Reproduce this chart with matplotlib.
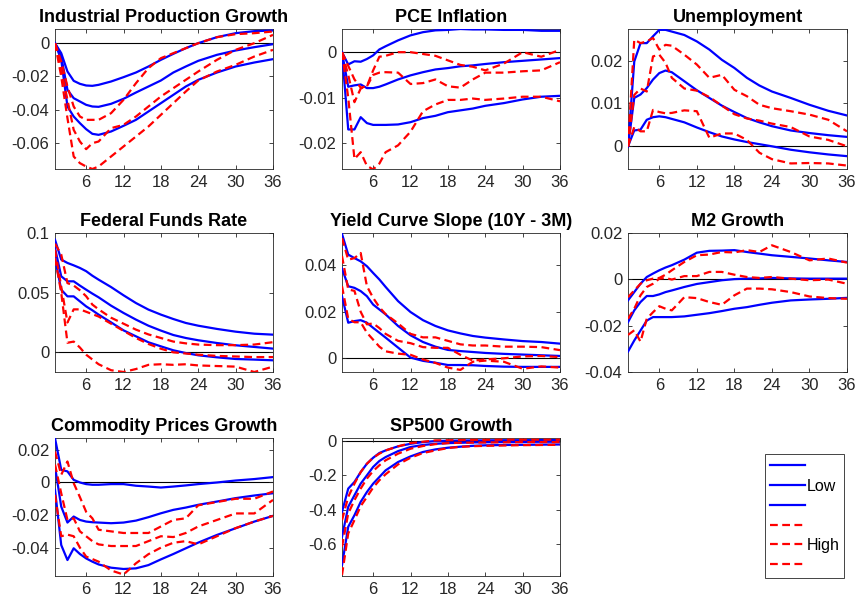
import matplotlib
matplotlib.use("Agg")
import matplotlib.pyplot as plt
from matplotlib.lines import Line2D

plt.rcParams['font.family'] = ['Liberation Sans', 'DejaVu Sans']

# horizons (months) at which the responses are listed
h = [1, 2, 3, 4, 5, 6, 7, 8, 10, 12, 14, 16, 18, 20, 22, 24, 27, 30, 33, 36]

# Industrial production growth
ip_low_lo = [0, -0.010, -0.038, -0.044, -0.048, -0.0516, -0.0544, -0.055, -0.053, -0.0496, -0.046, -0.041, -0.036, -0.031, -0.026, -0.022, -0.0176, -0.014, -0.0116, -0.0096]
ip_low_md = [0, -0.008, -0.028, -0.033, -0.035, -0.037, -0.038, -0.0382, -0.0364, -0.0334, -0.0296, -0.026, -0.0224, -0.0176, -0.014, -0.0106, -0.007, -0.0044, -0.0024, -0.0006]
ip_low_hi = [0, -0.006, -0.017, -0.0226, -0.0244, -0.0254, -0.0256, -0.025, -0.023, -0.0204, -0.0176, -0.014, -0.010, -0.0064, -0.003, 0, 0.0036, 0.006, 0.0072, 0.0076]
ip_high_lo = [0, -0.020, -0.045, -0.068, -0.072, -0.074, -0.0755, -0.074, -0.068, -0.062, -0.056, -0.050, -0.043, -0.036, -0.029, -0.0224, -0.017, -0.013, -0.008, -0.004]
ip_high_md = [0, -0.016, -0.034, -0.052, -0.059, -0.0636, -0.060, -0.059, -0.051, -0.049, -0.044, -0.038, -0.032, -0.027, -0.022, -0.017, -0.010, -0.004, 0, 0.005]
ip_high_hi = [0, -0.011, -0.026, -0.038, -0.044, -0.046, -0.046, -0.046, -0.042, -0.034, -0.024, -0.015, -0.009, -0.006, -0.003, 0, 0.0036, 0.0054, 0.006, 0.007]

# PCE inflation
pce_low_lo = [0, -0.017, -0.017, -0.0143, -0.0156, -0.016, -0.016, -0.016, -0.0159, -0.0154, -0.0145, -0.014, -0.0132, -0.0128, -0.0124, -0.0118, -0.0112, -0.0104, -0.0098, -0.0096]
pce_low_md = [0, -0.0076, -0.0073, -0.0071, -0.0079, -0.0079, -0.0076, -0.0071, -0.006, -0.0051, -0.0044, -0.0038, -0.0035, -0.0031, -0.0029, -0.0026, -0.0022, -0.0019, -0.0016, -0.0013]
pce_low_hi = [0, -0.0027, -0.002, -0.0021, -0.0015, -0.0007, 0.0006, 0.0013, 0.0026, 0.0037, 0.0044, 0.0048, 0.0049, 0.0051, 0.005, 0.005, 0.0049, 0.0049, 0.0047, 0.0047]
pce_high_lo = [0, -0.010, -0.0235, -0.022, -0.025, -0.0258, -0.0245, -0.022, -0.0205, -0.0175, -0.013, -0.0115, -0.0105, -0.0105, -0.0102, -0.0105, -0.0102, -0.0098, -0.0098, -0.0108]
pce_high_md = [0, -0.005, -0.011, -0.008, -0.0075, -0.005, -0.0045, -0.0044, -0.0045, -0.007, -0.0068, -0.006, -0.0075, -0.0078, -0.006, -0.0045, -0.0045, -0.0042, -0.004, -0.0022]
pce_high_hi = [0, -0.003, -0.006, -0.0078, -0.0075, -0.004, -0.001, -0.0008, 0, 0, -0.0004, -0.0008, -0.0018, -0.0028, -0.0032, -0.004, -0.0025, 0, -0.001, 0.0005]

# Unemployment
ur_low_lo = [0, 0.0037, 0.0039, 0.0062, 0.0068, 0.007, 0.0068, 0.0064, 0.0056, 0.0044, 0.0033, 0.0023, 0.0016, 0.001, 0.0005, 0, -0.0008, -0.0014, -0.0019, -0.0023]
ur_low_md = [0, 0.0113, 0.0121, 0.0136, 0.0156, 0.0171, 0.0177, 0.0173, 0.0152, 0.0131, 0.0113, 0.0095, 0.008, 0.0066, 0.0056, 0.0047, 0.0037, 0.0031, 0.0026, 0.0022]
ur_low_hi = [0, 0.0198, 0.0241, 0.0241, 0.0257, 0.0272, 0.0272, 0.0268, 0.026, 0.0245, 0.0226, 0.0202, 0.0183, 0.016, 0.0142, 0.0128, 0.0113, 0.0097, 0.0083, 0.0072]
ur_high_lo = [0, 0.0045, 0.0035, 0.0035, 0.0085, 0.008, 0.0077, 0.0078, 0.0084, 0.0082, 0.002, 0.003, 0.003, 0.0015, -0.0015, -0.003, -0.004, -0.0039, -0.004, -0.0045]
ur_high_md = [0, 0.012, 0.0135, 0.0128, 0.021, 0.0214, 0.0195, 0.016, 0.0135, 0.013, 0.0115, 0.0095, 0.0075, 0.0065, 0.006, 0.0053, 0.0045, 0.0023, 0.0015, 0]
ur_high_hi = [0, 0.0249, 0.0241, 0.0245, 0.0253, 0.0226, 0.0237, 0.0235, 0.0214, 0.0191, 0.016, 0.0167, 0.0132, 0.0117, 0.0097, 0.0089, 0.0082, 0.0074, 0.0062, 0.0035]

# Federal funds rate
ffr_low_lo = [0.079, 0.0525, 0.0469, 0.0469, 0.0427, 0.0385, 0.0352, 0.0316, 0.0251, 0.0184, 0.0134, 0.0084, 0.005, 0.0017, -0.0006, -0.0025, -0.0042, -0.0056, -0.0061, -0.0067]
ffr_low_md = [0.0874, 0.0637, 0.0595, 0.0595, 0.0559, 0.0525, 0.0492, 0.0461, 0.0391, 0.033, 0.0274, 0.0223, 0.0182, 0.0145, 0.012, 0.0101, 0.0078, 0.0059, 0.0045, 0.0031]
ffr_low_hi = [0.0944, 0.0777, 0.0749, 0.0729, 0.0707, 0.068, 0.0642, 0.0609, 0.0547, 0.0478, 0.0413, 0.0358, 0.0316, 0.0279, 0.0246, 0.0223, 0.0196, 0.0173, 0.0156, 0.0148]
ffr_high_lo = [0.079, 0.050, 0.008, 0.009, 0.004, -0.002, -0.006, -0.010, -0.015, -0.0165, -0.014, -0.0105, -0.010, -0.0105, -0.010, -0.011, -0.0115, -0.012, -0.0165, -0.012]
ffr_high_md = [0.086, 0.055, 0.025, 0.036, 0.036, 0.034, 0.032, 0.030, 0.024, 0.018, 0.012, 0.007, 0.003, 0, -0.001, -0.002, -0.003, -0.0035, -0.004, -0.004]
ffr_high_hi = [0.091, 0.082, 0.058, 0.056, 0.052, 0.047, 0.040, 0.036, 0.029, 0.024, 0.019, 0.015, 0.012, 0.009, 0.0075, 0.0065, 0.006, 0.006, 0.0065, 0.0085]

# Yield curve slope
yc_low_lo = [0.0267, 0.0153, 0.016, 0.0164, 0.0153, 0.0131, 0.011, 0.0089, 0.0046, 0.0003, -0.0011, -0.0019, -0.0029, -0.0029, -0.003, -0.0033, -0.0036, -0.0037, -0.0037, -0.0037]
yc_low_md = [0.0386, 0.031, 0.0303, 0.0289, 0.0267, 0.0231, 0.021, 0.0189, 0.0139, 0.0099, 0.007, 0.005, 0.0036, 0.0031, 0.0027, 0.0023, 0.0019, 0.0016, 0.0013, 0.001]
yc_low_hi = [0.0535, 0.0446, 0.0431, 0.0417, 0.0396, 0.0367, 0.0339, 0.0307, 0.0246, 0.0199, 0.0164, 0.0139, 0.012, 0.0107, 0.0096, 0.0089, 0.0081, 0.0074, 0.007, 0.0063]
yc_high_lo = [0.031, 0.017, 0.0155, 0.0155, 0.011, 0.008, 0.005, 0.003, 0.002, 0.0015, -0.0005, -0.002, -0.004, -0.005, -0.0015, -0.001, -0.0015, -0.0045, -0.0035, -0.004]
yc_high_md = [0.044, 0.0296, 0.029, 0.020, 0.0146, 0.015, 0.013, 0.0105, 0.0075, 0.0065, 0.0048, 0.0045, 0.0045, 0.0015, -0.001, -0.0005, 0, 0.0008, 0.001, 0.0005]
yc_high_hi = [0.0517, 0.0424, 0.0431, 0.0453, 0.031, 0.026, 0.022, 0.019, 0.015, 0.0105, 0.009, 0.009, 0.0075, 0.006, 0.0055, 0.0055, 0.005, 0.005, 0.0048, 0.0035]

# M2 growth
m2_low_lo = [-0.0312, -0.0264, -0.0221, -0.0178, -0.0163, -0.0163, -0.0163, -0.0163, -0.016, -0.0153, -0.0146, -0.0137, -0.0127, -0.012, -0.011, -0.0101, -0.0091, -0.0087, -0.0084, -0.008]
m2_low_md = [-0.0185, -0.0134, -0.0098, -0.0072, -0.0072, -0.0065, -0.0055, -0.0048, -0.0033, -0.002, -0.0012, -0.0004, 0.0001, 0.0003, 0.0004, 0.0006, 0.0004, 0.0003, 0.0003, 0.0003]
m2_low_hi = [-0.0091, -0.0055, -0.0019, 0.001, 0.0025, 0.0039, 0.0051, 0.0061, 0.0085, 0.0115, 0.0123, 0.0124, 0.0126, 0.0118, 0.0111, 0.0104, 0.0097, 0.009, 0.0082, 0.0075]
m2_high_lo = [-0.024, -0.022, -0.0269, -0.017, -0.0142, -0.0116, -0.0127, -0.0134, -0.0077, -0.0081, -0.0098, -0.011, -0.0069, -0.004, -0.004, -0.0043, -0.0055, -0.0074, -0.0081, -0.0084]
m2_high_md = [-0.017, -0.0127, -0.0069, -0.0033, -0.0019, 0.0003, 0.0006, -0.0001, 0.0014, 0.0014, 0.0032, 0.0032, 0.002, 0.001, 0.0006, 0.001, 0.0003, -0.0004, -0.0001, -0.0019]
m2_high_hi = [-0.0077, -0.0048, -0.0019, -0.0004, 0.0003, 0.0006, 0.002, 0.0039, 0.0075, 0.0104, 0.0107, 0.0118, 0.0116, 0.0126, 0.0118, 0.0147, 0.0118, 0.0082, 0.009, 0.0072]

# Commodity prices growth
cp_low_lo = [-0.0045, -0.0384, -0.0476, -0.0404, -0.0439, -0.0466, -0.0486, -0.0503, -0.0523, -0.0531, -0.0527, -0.0507, -0.0472, -0.0439, -0.0404, -0.0369, -0.0322, -0.0281, -0.024, -0.0205]
cp_low_md = [0.0098, -0.0148, -0.0246, -0.0209, -0.023, -0.024, -0.0244, -0.0246, -0.025, -0.0246, -0.0234, -0.0213, -0.0189, -0.0168, -0.0154, -0.0137, -0.0117, -0.0096, -0.008, -0.0066]
cp_low_hi = [0.0272, 0.0078, 0.0068, 0.0016, 0, -0.001, -0.0014, -0.0014, -0.001, -0.001, -0.002, -0.0025, -0.0031, -0.0025, -0.0018, -0.001, 0, 0.0012, 0.0021, 0.0033]
cp_high_lo = [-0.0076, -0.033, -0.032, -0.033, -0.040, -0.0455, -0.047, -0.0486, -0.054, -0.0565, -0.0496, -0.044, -0.040, -0.037, -0.036, -0.038, -0.033, -0.028, -0.024, -0.0205]
cp_high_md = [0.011, -0.0066, -0.023, -0.022, -0.030, -0.033, -0.036, -0.038, -0.039, -0.039, -0.039, -0.036, -0.033, -0.0335, -0.031, -0.027, -0.023, -0.019, -0.019, -0.0107]
cp_high_hi = [0.019, 0.0047, 0.0129, -0.0004, -0.009, -0.018, -0.022, -0.029, -0.030, -0.031, -0.031, -0.031, -0.027, -0.023, -0.022, -0.014, -0.012, -0.010, -0.010, -0.0055]

# SP500 growth
sp_low_lo = [-0.726, -0.501, -0.433, -0.355, -0.297, -0.248, -0.209, -0.170, -0.121, -0.088, -0.062, -0.047, -0.037, -0.031, -0.026, -0.023, -0.021, -0.020, -0.019, -0.018]
sp_low_md = [-0.560, -0.384, -0.316, -0.248, -0.199, -0.150, -0.115, -0.092, -0.057, -0.033, -0.021, -0.014, -0.010, -0.008, -0.006, -0.005, -0.004, -0.003, -0.002, -0.002]
sp_low_hi = [-0.414, -0.277, -0.238, -0.180, -0.131, -0.096, -0.068, -0.053, -0.029, -0.014, -0.004, 0.002, 0.004, 0.005, 0.006, 0.006, 0.007, 0.007, 0.008, 0.008]
sp_high_lo = [-0.784, -0.540, -0.462, -0.380, -0.326, -0.271, -0.228, -0.193, -0.135, -0.096, -0.068, -0.053, -0.039, -0.032, -0.028, -0.026, -0.024, -0.022, -0.021, -0.020]
sp_high_md = [-0.618, -0.423, -0.345, -0.277, -0.218, -0.174, -0.140, -0.111, -0.072, -0.043, -0.027, -0.016, -0.010, -0.008, -0.007, -0.006, -0.005, -0.004, -0.004, -0.004]
sp_high_hi = [-0.462, -0.326, -0.248, -0.180, -0.131, -0.096, -0.072, -0.053, -0.029, -0.010, -0.002, 0.006, 0.007, 0.008, 0.009, 0.009, 0.010, 0.010, 0.010, 0.010]

titles = ['Industrial Production Growth', 'PCE Inflation', 'Unemployment',
          'Federal Funds Rate', 'Yield Curve Slope (10Y - 3M)', 'M2 Growth',
          'Commodity Prices Growth', 'SP500 Growth']
low_bands = [(ip_low_lo, ip_low_md, ip_low_hi), (pce_low_lo, pce_low_md, pce_low_hi),
             (ur_low_lo, ur_low_md, ur_low_hi), (ffr_low_lo, ffr_low_md, ffr_low_hi),
             (yc_low_lo, yc_low_md, yc_low_hi), (m2_low_lo, m2_low_md, m2_low_hi),
             (cp_low_lo, cp_low_md, cp_low_hi), (sp_low_lo, sp_low_md, sp_low_hi)]
high_bands = [(ip_high_lo, ip_high_md, ip_high_hi), (pce_high_lo, pce_high_md, pce_high_hi),
              (ur_high_lo, ur_high_md, ur_high_hi), (ffr_high_lo, ffr_high_md, ffr_high_hi),
              (yc_high_lo, yc_high_md, yc_high_hi), (m2_high_lo, m2_high_md, m2_high_hi),
              (cp_high_lo, cp_high_md, cp_high_hi), (sp_high_lo, sp_high_md, sp_high_hi)]
yticks = [[-0.06, -0.04, -0.02, 0], [-0.02, -0.01, 0], [0, 0.01, 0.02],
          [0, 0.05, 0.1], [0, 0.02, 0.04], [-0.04, -0.02, 0, 0.02],
          [-0.04, -0.02, 0, 0.02], [-0.6, -0.4, -0.2, 0]]
ylims = [(-0.0755, 0.0085), (-0.0257, 0.0051), (-0.0053, 0.0274),
         (-0.0165, 0.1), (-0.0059, 0.0539), (-0.04, 0.02),
         (-0.0574, 0.0273), (-0.79, 0.02)]

W, H = 857, 603
fig = plt.figure(figsize=(W / 100, H / 100), dpi=100)

col_left = [55, 342, 628]
col_width = [218, 218, 219]
row_top = [29, 233, 438]
row_height = [140, 139, 138]
frame = (0.15, 0.15, 0.15)

for i in range(8):
    r, c = divmod(i, 3)
    ax = fig.add_axes([col_left[c] / W, 1 - (row_top[r] + row_height[r]) / H,
                       col_width[c] / W, row_height[r] / H])
    ax.axhline(0, color='black', lw=0.8, zorder=1)
    for y in low_bands[i]:
        ax.plot(h, y, color='blue', lw=1.6, zorder=3)
    for y in high_bands[i]:
        ax.plot(h, y, color='red', lw=1.6, ls=(0, (3.5, 2)), zorder=4)
    ax.set_xlim(1, 36)
    ax.set_ylim(*ylims[i])
    ax.set_xticks([6, 12, 18, 24, 30, 36])
    ax.set_yticks(yticks[i])
    ax.set_yticklabels([f"{v:g}" for v in yticks[i]])
    ax.tick_params(direction='in', length=3, width=0.6, colors=frame,
                   labelsize=12, top=True, right=True, pad=4)
    for s in ax.spines.values():
        s.set_color(frame)
        s.set_linewidth(0.6)
    ax.set_title(titles[i], fontsize=13, fontweight='bold', pad=5)

handles = [Line2D([], [], color='blue', lw=1.6) for _ in range(3)] + \
          [Line2D([], [], color='red', lw=1.6, ls=(0, (3.5, 2))) for _ in range(3)]
labels = ['', 'Low', '', '', 'High', '']
leg = fig.legend(handles, labels, loc='upper left',
                 bbox_to_anchor=(765 / W, 1 - 454 / H), borderaxespad=0,
                 fontsize=11.5, handlelength=2.2, handletextpad=0.1,
                 labelspacing=0.3, borderpad=0.3, fancybox=False,
                 framealpha=1, edgecolor=frame)
leg.get_frame().set_linewidth(0.6)

fig.savefig('out.png', dpi=100)
